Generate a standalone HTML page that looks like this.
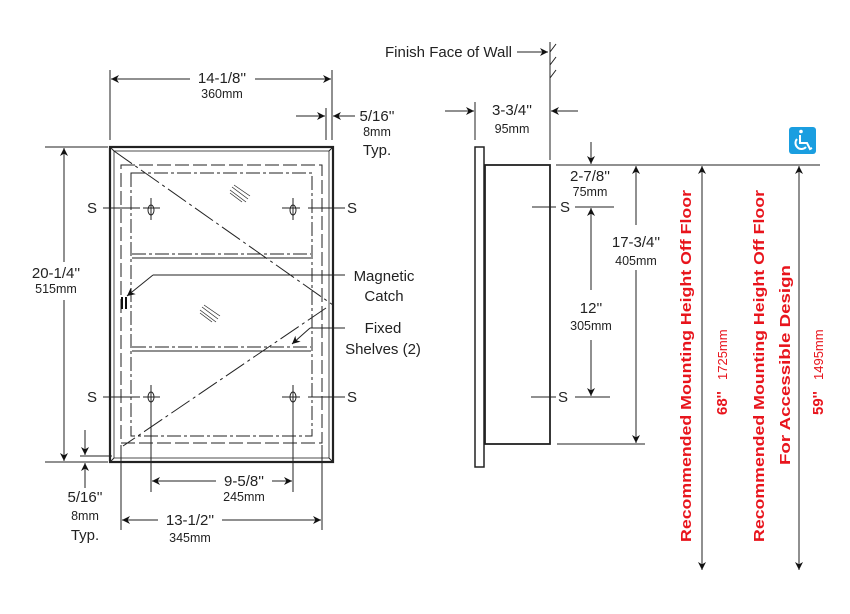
<!DOCTYPE html>
<html><head><meta charset="utf-8"><style>
html,body{margin:0;padding:0;background:#fff;}
svg{display:block;font-family:"Liberation Sans",Arial,sans-serif;}
</style></head><body>
<svg width="850" height="614" viewBox="0 0 850 614" xmlns="http://www.w3.org/2000/svg">
<defs>
<marker id="a" viewBox="0 0 10 10" refX="10" refY="5" markerWidth="10" markerHeight="8" markerUnits="userSpaceOnUse" orient="auto"><path d="M0,0 L10,5 L0,10 L3,5 z" fill="#111"/></marker>
</defs>
<g stroke="#222" fill="none" stroke-width="1">
<rect x="110" y="147" width="223" height="315" stroke-width="2.2"/>
<rect x="114" y="151" width="215" height="307" stroke-width="0.8"/>
<line x1="110" y1="147" x2="114" y2="151"/><line x1="333" y1="147" x2="329" y2="151"/>
<line x1="110" y1="462" x2="114" y2="458"/><line x1="333" y1="462" x2="329" y2="458"/>
<rect x="121" y="165" width="201" height="278" stroke-dasharray="14,4"/>
<rect x="131" y="173" width="181" height="263" stroke-dasharray="14,3,3,3"/>
<line x1="132" y1="254" x2="311" y2="254" stroke-dasharray="14,3,3,3"/>
<line x1="132" y1="258" x2="311" y2="258"/>
<line x1="132" y1="347" x2="311" y2="347" stroke-dasharray="14,3,3,3"/>
<line x1="132" y1="351" x2="311" y2="351"/>
<line x1="114" y1="151" x2="333" y2="305" stroke-dasharray="22,4,3,4"/>
<line x1="326" y1="308" x2="123" y2="446" stroke-dasharray="22,4,3,4"/>
<line x1="103" y1="208" x2="140" y2="208"/><line x1="143" y1="208" x2="160" y2="208"/>
<line x1="282" y1="208" x2="300" y2="208"/><line x1="308" y1="208" x2="345" y2="208"/>
<line x1="103" y1="397" x2="140" y2="397"/><line x1="143" y1="397" x2="160" y2="397"/>
<line x1="282" y1="397" x2="300" y2="397"/><line x1="308" y1="397" x2="345" y2="397"/>
<line x1="151" y1="198" x2="151" y2="220"/><line x1="293" y1="198" x2="293" y2="220"/>
<ellipse cx="151" cy="210" rx="3" ry="5"/><ellipse cx="293" cy="210" rx="3" ry="5"/>
<line x1="151" y1="385" x2="151" y2="492"/><line x1="293" y1="385" x2="293" y2="492"/>
<ellipse cx="151" cy="397" rx="3" ry="5"/><ellipse cx="293" cy="397" rx="3" ry="5"/>
<g stroke-width="0.7"><line x1="230" y1="190" x2="246" y2="202"/><line x1="232" y1="187" x2="248" y2="199"/><line x1="234" y1="185" x2="250" y2="196"/><line x1="230" y1="193" x2="242" y2="202"/>
<line x1="200" y1="310" x2="216" y2="322"/><line x1="202" y1="307" x2="218" y2="319"/><line x1="204" y1="305" x2="220" y2="316"/><line x1="200" y1="313" x2="212" y2="322"/></g>
<rect x="121" y="297" width="2" height="12" fill="#111" stroke="none"/><rect x="125" y="297" width="2" height="12" fill="#111" stroke="none"/>
<polyline points="345,275 153,275"/><line x1="153" y1="275" x2="127" y2="296" marker-end="url(#a)"/>
<polyline points="345,328 310,328"/><line x1="310" y1="328" x2="292" y2="344" marker-end="url(#a)"/>
<line x1="110" y1="70" x2="110" y2="140"/><line x1="332" y1="70" x2="332" y2="140"/>
<line x1="190" y1="79" x2="111" y2="79" marker-end="url(#a)"/><line x1="255" y1="79" x2="331" y2="79" marker-end="url(#a)"/>
<line x1="326" y1="108" x2="326" y2="140"/>
<line x1="296" y1="116" x2="325" y2="116" marker-end="url(#a)"/><line x1="355" y1="116" x2="333" y2="116" marker-end="url(#a)"/>
<line x1="45" y1="147" x2="108" y2="147"/><line x1="45" y1="462" x2="108" y2="462"/>
<line x1="64" y1="262" x2="64" y2="148" marker-end="url(#a)"/><line x1="64" y1="300" x2="64" y2="461" marker-end="url(#a)"/>
<line x1="80" y1="456" x2="112" y2="456"/>
<line x1="85" y1="430" x2="85" y2="455" marker-end="url(#a)"/><line x1="85" y1="488" x2="85" y2="463" marker-end="url(#a)"/>
<line x1="121" y1="445" x2="121" y2="530"/><line x1="322" y1="445" x2="322" y2="530"/>
<line x1="216" y1="481" x2="152" y2="481" marker-end="url(#a)"/><line x1="272" y1="481" x2="292" y2="481" marker-end="url(#a)"/>
<line x1="158" y1="520" x2="122" y2="520" marker-end="url(#a)"/><line x1="222" y1="520" x2="321" y2="520" marker-end="url(#a)"/>
<rect x="475" y="147" width="9" height="320" stroke-width="1.5"/>
<rect x="485" y="165" width="65" height="279" stroke-width="1.8"/>
<line x1="550" y1="42" x2="550" y2="160"/>
<line x1="550" y1="52" x2="556" y2="44"/><line x1="550" y1="65" x2="556" y2="57"/><line x1="550" y1="78" x2="556" y2="70"/>
<line x1="517" y1="52" x2="548" y2="52" marker-end="url(#a)"/>
<line x1="475" y1="102" x2="475" y2="140"/>
<line x1="445" y1="111" x2="474" y2="111" marker-end="url(#a)"/><line x1="578" y1="111" x2="551" y2="111" marker-end="url(#a)"/>
<line x1="556" y1="165" x2="820" y2="165"/>
<line x1="557" y1="444" x2="645" y2="444"/>
<line x1="591" y1="142" x2="591" y2="164" marker-end="url(#a)"/>
<line x1="532" y1="207" x2="556" y2="207"/><line x1="575" y1="207" x2="614" y2="207"/>
<line x1="531" y1="397" x2="556" y2="397"/><line x1="575" y1="397" x2="610" y2="397"/>
<line x1="591" y1="290" x2="591" y2="208" marker-end="url(#a)"/><line x1="591" y1="340" x2="591" y2="396" marker-end="url(#a)"/>
<line x1="636" y1="225" x2="636" y2="166" marker-end="url(#a)"/><line x1="636" y1="270" x2="636" y2="443" marker-end="url(#a)"/>
<line x1="702" y1="570" x2="702" y2="166" marker-end="url(#a)"/><line x1="702" y1="560" x2="702" y2="570" marker-end="url(#a)"/>
<line x1="799" y1="570" x2="799" y2="166" marker-end="url(#a)"/><line x1="799" y1="560" x2="799" y2="570" marker-end="url(#a)"/>
</g>
<g font-size="15" fill="#222" text-anchor="middle">
<text x="222" y="83">14-1/8''</text><text x="222" y="98" font-size="12.5">360mm</text>
<text x="377" y="121">5/16''</text><text x="377" y="136" font-size="12.5">8mm</text><text x="377" y="155">Typ.</text>
<text x="56" y="278">20-1/4''</text><text x="56" y="293" font-size="12.5">515mm</text>
<text x="85" y="502">5/16''</text><text x="85" y="520" font-size="12.5">8mm</text><text x="85" y="540">Typ.</text>
<text x="244" y="486">9-5/8''</text><text x="244" y="501" font-size="12.5">245mm</text>
<text x="190" y="525">13-1/2''</text><text x="190" y="542" font-size="12.5">345mm</text>
<text x="92" y="213">S</text><text x="352" y="213">S</text><text x="92" y="402">S</text><text x="352" y="402">S</text>
<text x="384" y="281">Magnetic</text><text x="384" y="301">Catch</text>
<text x="383" y="333">Fixed</text><text x="383" y="354">Shelves (2)</text>
<text x="512" y="57" text-anchor="end">Finish Face of Wall</text>
<text x="512" y="115">3-3/4''</text><text x="512" y="133" font-size="12.5">95mm</text>
<text x="590" y="181">2-7/8''</text><text x="590" y="196" font-size="12.5">75mm</text>
<text x="565" y="212">S</text><text x="563" y="402">S</text>
<text x="636" y="247">17-3/4''</text><text x="636" y="265" font-size="12.5">405mm</text>
<text x="591" y="313">12''</text><text x="591" y="330" font-size="12.5">305mm</text>
</g>
<g fill="#e8141c" font-weight="bold" font-size="15">
<text transform="translate(691,542) rotate(-90)" textLength="352" lengthAdjust="spacingAndGlyphs">Recommended Mounting Height Off Floor</text>
<text transform="translate(727,415) rotate(-90)">68''</text>
<text transform="translate(727,380) rotate(-90)" font-size="13" font-weight="normal">1725mm</text>
<text transform="translate(764,542) rotate(-90)" textLength="352" lengthAdjust="spacingAndGlyphs">Recommended Mounting Height Off Floor</text>
<text transform="translate(790,465) rotate(-90)" textLength="200" lengthAdjust="spacingAndGlyphs">For Accessible Design</text>
<text transform="translate(823,415) rotate(-90)">59''</text>
<text transform="translate(823,380) rotate(-90)" font-size="13" font-weight="normal">1495mm</text>
</g>
<rect x="789" y="127" width="27" height="27" rx="3" fill="#1a9ee0"/>
<g stroke="#fff" fill="none" stroke-width="2">
<circle cx="801" cy="131.5" r="1.8" fill="#fff" stroke="none"/>
<path d="M800,135 L800,143 L807,143 L810,149 L812,148"/>
<path d="M797,139 A6,6 0 1 0 806,147"/>
</g>
</svg>
</body></html>
